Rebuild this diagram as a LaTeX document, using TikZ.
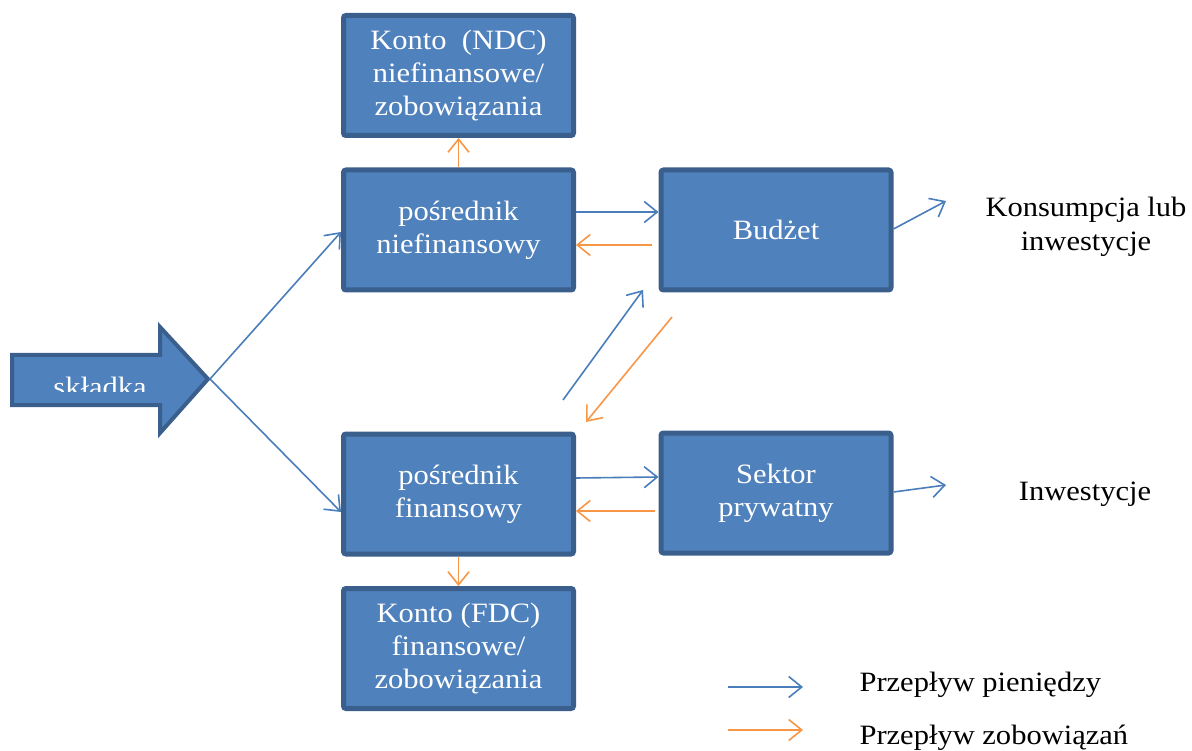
\documentclass[tikz,border=0pt]{standalone}
\usepackage{fontspec}
\setmainfont{Liberation Serif}[FakeStretch=1.09]
\usetikzlibrary{arrows.meta,calc}
\definecolor{boxfill}{HTML}{4F81BD}
\definecolor{boxline}{HTML}{3A5F8C}
\definecolor{mblue}{HTML}{4A7EBB}
\definecolor{morange}{HTML}{F79646}
\tikzset{
  box/.style={draw=boxline,fill=boxfill,line width=5pt,rounded corners=2.5pt,
    minimum width=230pt,minimum height=120pt,text=white,align=center,
    font=\fontsize{28}{33}\selectfont},
  lbl/.style={text=black,align=center,font=\fontsize{28}{34}\selectfont},
  money/.style={draw=mblue,line width=1.6pt,-{Straight Barb[length=13pt,width=21pt,line width=1.6pt]}},
  debt/.style={draw=morange,line width=1.6pt,-{Straight Barb[length=13pt,width=21pt,line width=1.6pt]}},
}
\begin{document}
\begin{tikzpicture}[x=1pt,y=-1pt]
\useasboundingbox (0,0) rectangle (1192,751);
% boxes
\node[box] (ndc) at (458.5,75.5) {Konto\ \ (NDC)\\niefinansowe/\\zobowiązania};
\node[box] (pn) at (458.5,230) {pośrednik\\niefinansowy};
\node[box] (bud) at (776,230) {Budżet};
\node[box] (pf) at (458.5,494) {pośrednik\\finansowy};
\node[box] (sek) at (776,493) {Sektor\\prywatny};
\node[box] (fdc) at (458.5,648.5) {Konto (FDC)\\finansowe/\\zobowiązania};
% big arrow
\draw[boxline,fill=boxfill,line width=4pt,line join=miter]
  (12,355) -- (160,355) -- (160,327) -- (208,379) -- (160,433) -- (160,405) -- (12,405) -- cycle;
\coordinate (tip) at (210,379);
\begin{scope}
\clip (14,357) rectangle (200,392);
\node[text=white,font=\fontsize{28}{33}\selectfont,anchor=base] (sk) at (100,396) {składka};
\end{scope}
% outside labels
\node[lbl] (kons) at (1086,227) {Konsumpcja lub\\inwestycje};
\node[lbl] (inw) at (1085,494) {Inwestycje};
\node[lbl,anchor=west] (l1) at (856,685) {Przepływ pieniędzy};
\node[lbl,anchor=west] (l2) at (856,738) {Przepływ zobowiązań};
% connectors
\draw[money] (tip) -- ([yshift=-2pt]pn.west);
\draw[money] (tip) -- ([yshift=-18pt]pf.west);
\draw[money] ([yshift=18pt]pn.east) -- ([yshift=18pt]bud.west);
\draw[debt,shorten <=7pt] ([yshift=-15pt]bud.west) -- ([yshift=-15pt]pn.east);
\draw[debt] (pn.north) -- (ndc.south);
\draw[money] ([yshift=16pt]pf.east) -- ([yshift=16pt]sek.west);
\draw[debt,shorten <=4pt] ([yshift=-18pt]sek.west) -- ([yshift=-17pt]pf.east);
\draw[debt] (pf.south) -- (fdc.north);
\coordinate (b1) at (563,400);
\coordinate (b2) at (643,290);
\draw[money] (b1) -- (b2);
\coordinate (o1) at (672,317);
\coordinate (o2) at (586,422);
\draw[debt] (o1) -- (o2);
\coordinate (c1) at (946,201);
\draw[money] ([yshift=1pt]bud.east) -- (c1);
\coordinate (c2) at (946,485);
\draw[money] ([yshift=1pt]sek.east) -- (c2);
\coordinate (m1) at (728,687);
\coordinate (m2) at (803,687);
\draw[money] (m1) -- (m2);
\coordinate (d1) at (728,730);
\coordinate (d2) at (803,730);
\draw[debt] (d1) -- (d2);
\end{tikzpicture}
\end{document}
